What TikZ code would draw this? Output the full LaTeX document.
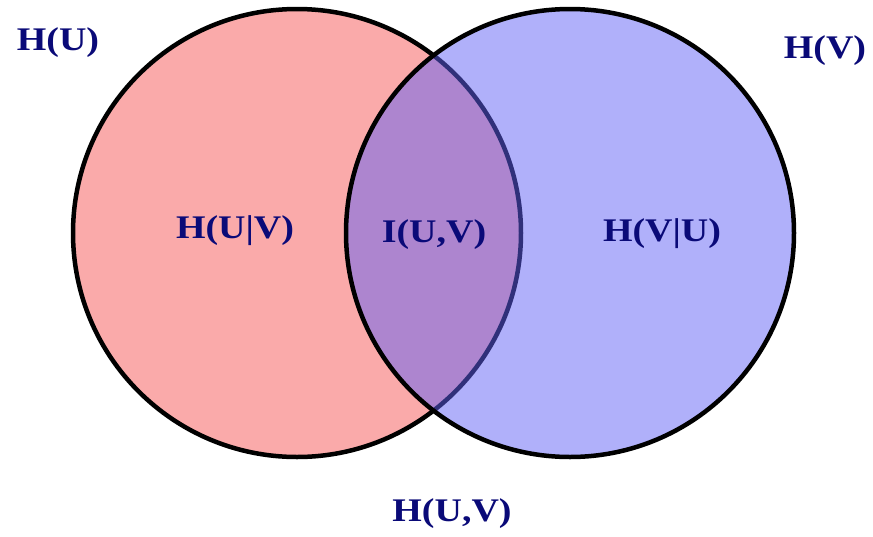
\documentclass[tikz,border=0pt]{standalone}
\usepackage{fontspec}
\setmainfont{Liberation Serif}[FakeStretch=1.15]
\definecolor{setpink}{RGB}{250,170,170}
\definecolor{setblue}{RGB}{97,97,245}
\definecolor{labelnavy}{RGB}{10,10,120}

\begin{document}
\begin{tikzpicture}[x=1pt, y=-1pt,
  set/.style={circle, draw=black, line width=4.5pt, minimum size=448pt, inner sep=0pt},
  lbl/.style={text=labelnavy, font=\fontsize{33}{36}\selectfont\bfseries, anchor=base, inner sep=0pt}]
\path[use as bounding box] (0,0) rectangle (873,536);
% the two entropy sets
\node[set, fill=setpink] (U) at (297,233) {};
\node[set, fill=setblue, fill opacity=0.5] (V) at (570,233) {};
% labels
\node[lbl] (HU) at (58,50) {H(U)};
\node[lbl] (HV) at (825,58) {H(V)};
\node[lbl] (HUgV) at (235,238) {H(U|V)};
\node[lbl] (IUV) at (434,242) {I(U,V)};
\node[lbl] (HVgU) at (662,241) {H(V|U)};
\node[lbl] (HUV) at (452,521) {H(U,V)};
\end{tikzpicture}
\end{document}
